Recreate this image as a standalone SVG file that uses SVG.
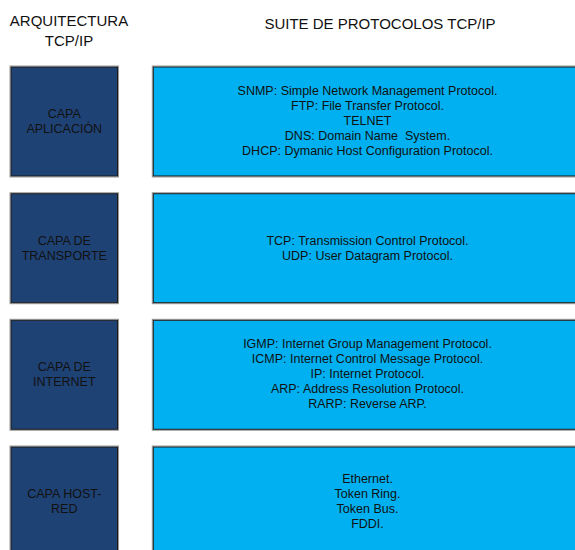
<svg xmlns="http://www.w3.org/2000/svg" width="575" height="550" viewBox="0 0 575 550">
  <style>
    text { font-family: "Liberation Sans", Arial, sans-serif; fill: #111111; text-anchor: middle; white-space: pre; }
    .head { font-size: 15px; }
    .lbl { font-size: 12.5px; }
    .layer { fill: #1f4275; stroke: #1a1a1a; stroke-width: 1; }
    .proto { fill: #00b0f0; stroke: #1a1a1a; stroke-width: 1; }
    .halo { fill: none; stroke: #9a9a9a; stroke-width: 1; }
  </style>
  <rect width="575" height="550" fill="#ffffff"/>

  <!-- column headings -->
  <g id="headings">
    <text class="head" x="69" y="26">ARQUITECTURA</text>
    <text class="head" x="69" y="46">TCP/IP</text>
    <text class="head" x="380" y="29">SUITE DE PROTOCOLOS TCP/IP</text>
  </g>

  <!-- layer boxes (left column) -->
  <g id="layer-aplicacion">
    <rect class="halo" x="10" y="66" width="108.5" height="111"/>
    <rect class="layer" x="11" y="67" width="106.5" height="109"/>
    <text class="lbl" x="64.3" y="117.5">CAPA</text>
    <text class="lbl" x="64.3" y="132.5">APLICACIÓN</text>
  </g>
  <g id="layer-transporte">
    <rect class="halo" x="10" y="192.7" width="108.5" height="111"/>
    <rect class="layer" x="11" y="193.7" width="106.5" height="109"/>
    <text class="lbl" x="64.3" y="244.5">CAPA DE</text>
    <text class="lbl" x="64.3" y="259.5">TRANSPORTE</text>
  </g>
  <g id="layer-internet">
    <rect class="halo" x="10" y="319.3" width="108.5" height="111"/>
    <rect class="layer" x="11" y="320.3" width="106.5" height="109"/>
    <text class="lbl" x="64.3" y="371">CAPA DE</text>
    <text class="lbl" x="64.3" y="386">INTERNET</text>
  </g>
  <g id="layer-host-red">
    <rect class="halo" x="10" y="446" width="108.5" height="111"/>
    <rect class="layer" x="11" y="447" width="106.5" height="109"/>
    <text class="lbl" x="64.3" y="497.7">CAPA HOST-</text>
    <text class="lbl" x="64.3" y="512.7">RED</text>
  </g>

  <!-- protocol boxes (right column) -->
  <g id="proto-aplicacion">
    <rect class="halo" x="152.3" y="66" width="432" height="111"/>
    <rect class="proto" x="153.3" y="67" width="430" height="109"/>
    <text class="lbl" x="367.5" y="95">SNMP: Simple Network Management Protocol.</text>
    <text class="lbl" x="367.5" y="110">FTP: File Transfer Protocol.</text>
    <text class="lbl" x="367.5" y="125">TELNET</text>
    <text class="lbl" x="367.5" y="140">DNS: Domain Name  System.</text>
    <text class="lbl" x="367.5" y="155">DHCP: Dymanic Host Configuration Protocol.</text>
  </g>
  <g id="proto-transporte">
    <rect class="halo" x="152.3" y="192.7" width="432" height="111"/>
    <rect class="proto" x="153.3" y="193.7" width="430" height="109"/>
    <text class="lbl" x="367.5" y="245">TCP: Transmission Control Protocol.</text>
    <text class="lbl" x="367.5" y="260">UDP: User Datagram Protocol.</text>
  </g>
  <g id="proto-internet">
    <rect class="halo" x="152.3" y="319.3" width="432" height="111"/>
    <rect class="proto" x="153.3" y="320.3" width="430" height="109"/>
    <text class="lbl" x="367.5" y="348.3">IGMP: Internet Group Management Protocol.</text>
    <text class="lbl" x="367.5" y="363.3">ICMP: Internet Control Message Protocol.</text>
    <text class="lbl" x="367.5" y="378.3">IP: Internet Protocol.</text>
    <text class="lbl" x="367.5" y="393.3">ARP: Address Resolution Protocol.</text>
    <text class="lbl" x="367.5" y="408.3">RARP: Reverse ARP.</text>
  </g>
  <g id="proto-host-red">
    <rect class="halo" x="152.3" y="446" width="432" height="111"/>
    <rect class="proto" x="153.3" y="447" width="430" height="109"/>
    <text class="lbl" x="367.5" y="483">Ethernet.</text>
    <text class="lbl" x="367.5" y="498">Token Ring.</text>
    <text class="lbl" x="367.5" y="513">Token Bus.</text>
    <text class="lbl" x="367.5" y="528">FDDI.</text>
  </g>

  <!-- no connectors in this layout -->
  <g id="connectors"/>
</svg>
